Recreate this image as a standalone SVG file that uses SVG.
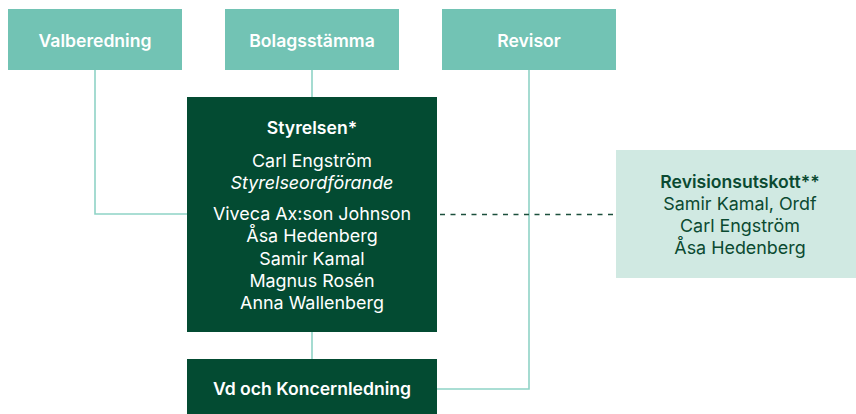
<svg xmlns="http://www.w3.org/2000/svg" width="856" height="414" viewBox="0 0 856 414">
<style>
.top{fill:#72c3b4}
.dark{fill:#034b32}
.mint{fill:#d0e9e2}
.t{font-family:Inter,"Liberation Sans",sans-serif;font-size:17.9px;text-anchor:middle}
.w{fill:#ffffff}
.g{fill:#0b4a31}
.b{font-weight:600;font-size:17.6px}
.i{font-style:italic}
.ln{fill:none;stroke:#8fd3c6;stroke-width:1.6}
.dash{fill:none;stroke:#1c4f3c;stroke-width:1.4;stroke-dasharray:5 5.5}
</style>
<rect width="856" height="414" fill="#ffffff"/>
<g id="connectors">
<path class="ln" d="M95 70 V214 H187"/>
<path class="ln" d="M312 70 V97"/>
<path class="ln" d="M312 332 V359"/>
<path class="ln" d="M529 70 V389 H437"/>
<path class="dash" d="M440 214.5 H616"/>
</g>
<g id="valberedning">
<rect class="top" x="8" y="9" width="174" height="61"/>
<text class="t w b" x="95" y="47">Valberedning</text>
</g>
<g id="bolagsstamma">
<rect class="top" x="225" y="9" width="174" height="61"/>
<text class="t w b" x="312" y="47">Bolagsstämma</text>
</g>
<g id="revisor">
<rect class="top" x="442" y="9" width="174" height="61"/>
<text class="t w b" x="529" y="47">Revisor</text>
</g>
<g id="styrelsen">
<rect class="dark" x="187" y="97" width="250" height="235"/>
<text class="t w b" x="312" y="134">Styrelsen*</text>
<text class="t w" x="312" y="167">Carl Engström</text>
<text class="t w i" x="312" y="188.5">Styrelseordförande</text>
<text class="t w" x="312" y="220">Viveca Ax:son Johnson</text>
<text class="t w" x="312" y="242">Åsa Hedenberg</text>
<text class="t w" x="312" y="264.5">Samir Kamal</text>
<text class="t w" x="312" y="286.5">Magnus Rosén</text>
<text class="t w" x="312" y="309">Anna Wallenberg</text>
</g>
<g id="vd">
<rect class="dark" x="187" y="359" width="250" height="55"/>
<text class="t w b" x="312" y="395">Vd och Koncernledning</text>
</g>
<g id="revisionsutskott">
<rect class="mint" x="616" y="150" width="240" height="128"/>
<text class="t g b" x="740" y="188">Revisionsutskott**</text>
<text class="t g" x="740" y="210">Samir Kamal, Ordf</text>
<text class="t g" x="740" y="232">Carl Engström</text>
<text class="t g" x="740" y="254">Åsa Hedenberg</text>
</g>
</svg>
